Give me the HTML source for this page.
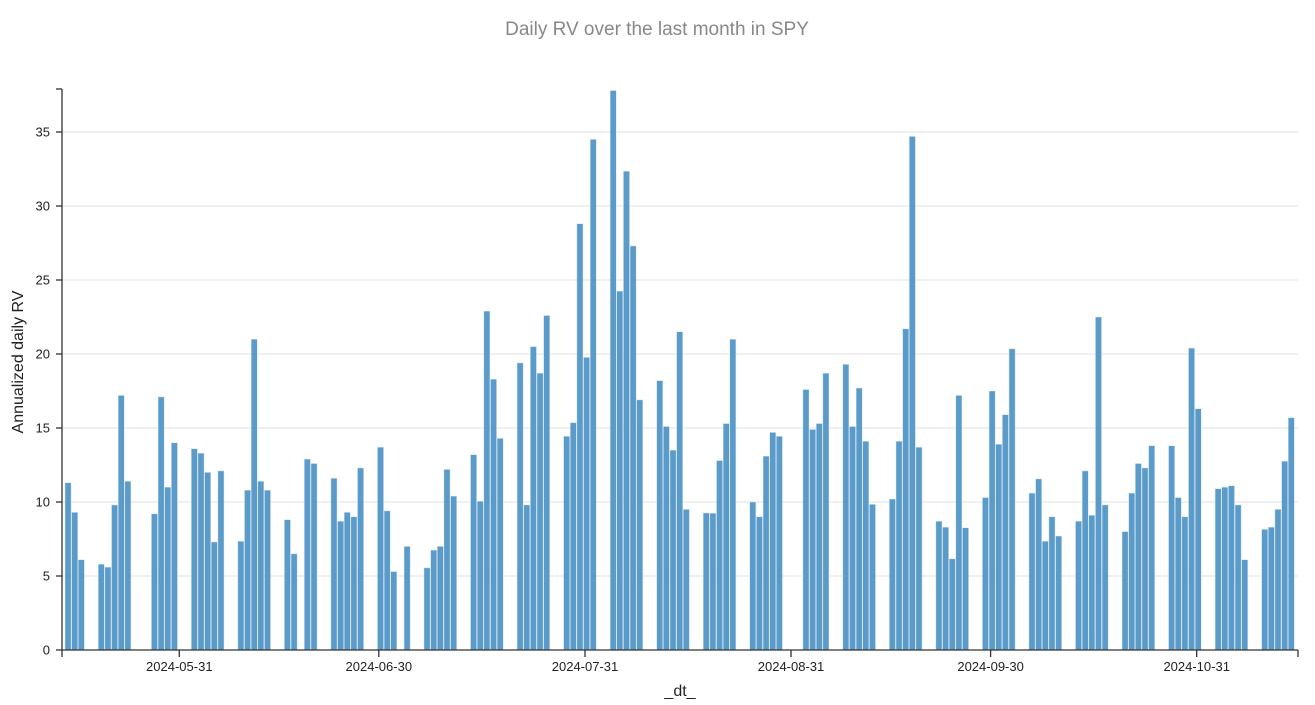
<!DOCTYPE html>
<html><head><meta charset="utf-8"><style>
body{margin:0;background:#fff;}
svg text{font-family:"Liberation Sans",Arial,sans-serif;}
</style></head><body>
<svg id="c" width="1315" height="700" xmlns="http://www.w3.org/2000/svg">
<text x="657" y="35" text-anchor="middle" font-size="19" fill="#888">Daily RV over the last month in SPY</text>
<g id="grid"></g>
<g id="bars"></g>
<g id="axes" stroke="#333" stroke-width="1.3" fill="none">
<line x1="62" y1="89" x2="62" y2="650"/>
<line x1="62" y1="650" x2="1298" y2="650"/>
<line x1="62" y1="650" x2="62" y2="657"/>
<line x1="1298" y1="650" x2="1298" y2="657"/>
<line x1="56" y1="89" x2="62" y2="89"/>
</g>
<g id="lab" font-size="13" fill="#222"></g>
<text transform="translate(23,362) rotate(-90)" text-anchor="middle" font-size="16" fill="#222">Annualized daily RV</text>
<text x="680" y="696" text-anchor="middle" font-size="16" fill="#222">_dt_</text>
</svg>
<script>
var ns="http://www.w3.org/2000/svg";
function el(t,a,p){var e=document.createElementNS(ns,t);for(var k in a)e.setAttribute(k,a[k]);document.getElementById(p).appendChild(e);return e;}
var Y=function(v){return 650-v*14.8;};
for(var v=0;v<=35;v+=5){
 if(v>0)el('line',{x1:62,x2:1298,y1:Y(v),y2:Y(v),stroke:'#e6e6e6','stroke-width':1.3},'grid');
 el('line',{x1:56,x2:62,y1:Y(v),y2:Y(v),stroke:'#333','stroke-width':1.3},'axes');
 var t=el('text',{x:50,y:Y(v)+4.5,'text-anchor':'end'},'lab');t.textContent=v;
}
var ticks=[[179.3,'2024-05-31'],[378.8,'2024-06-30'],[585,'2024-07-31'],[791,'2024-08-31'],[990.6,'2024-09-30'],[1196.7,'2024-10-31']];
ticks.forEach(function(d){el('line',{x1:d[0],x2:d[0],y1:650,y2:657,stroke:'#333','stroke-width':1.3},'axes');
 var t=el('text',{x:d[0],y:671,'text-anchor':'middle'},'lab');t.textContent=d[1];});
var N=null;
var weeks=[
[N,N,11.3,9.3,6.1],
[5.8,5.6,9.8,17.2,11.4],
[N,9.2,17.1,11.0,14.0],
[13.6,13.3,12.0,7.3,12.1],
[7.35,10.8,21.0,11.4,10.8],
[8.8,6.5,N,12.9,12.6],
[11.6,8.7,9.3,9.0,12.3],
[13.7,9.4,5.3,N,7.0],
[5.55,6.75,7.0,12.2,10.4],
[13.2,10.05,22.9,18.3,14.3],
[19.4,9.8,20.5,18.7,22.6],
[14.44,15.36,28.8,19.77,34.5],
[37.8,24.25,32.35,27.3,16.9],
[18.2,15.1,13.5,21.5,9.5],
[9.26,9.24,12.8,15.3,21.0],
[10.0,9.0,13.1,14.7,14.44],
[N,17.6,14.9,15.3,18.7],
[19.3,15.1,17.7,14.1,9.84],
[10.2,14.1,21.7,34.7,13.7],
[8.7,8.3,6.16,17.2,8.26],
[10.3,17.5,13.9,15.9,20.35],
[10.6,11.56,7.35,9.0,7.7],
[8.7,12.1,9.1,22.5,9.8],
[8.0,10.6,12.6,12.3,13.8],
[13.8,10.3,9.0,20.4,16.3],
[10.9,11.0,11.1,9.8,6.1],
[8.15,8.3,9.5,12.75,15.7]];
var p=6.648;
weeks.forEach(function(w,i){w.forEach(function(v,j){if(v===N)return;
 var slot=-2+i*7+j;var x=65+slot*p;
 el('rect',{x:x,y:Y(v),width:6.1,height:650-Y(v),fill:'#4f93c5','fill-opacity':0.93,stroke:'#d6e6f2','stroke-width':0.5},'bars');});});
</script>
</body></html>
